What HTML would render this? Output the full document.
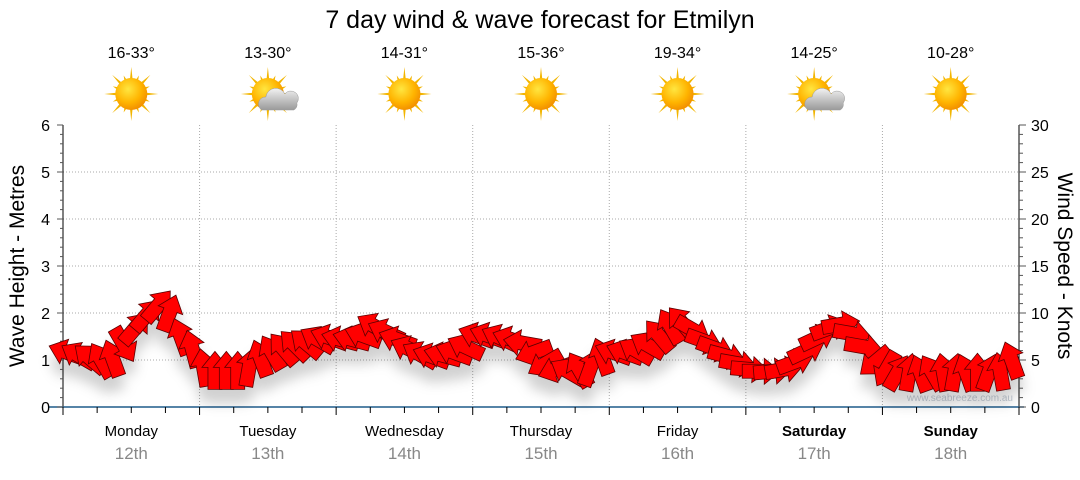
<!DOCTYPE html>
<html><head><meta charset="utf-8"><style>
body{margin:0;background:#fff;width:1080px;height:475px;overflow:hidden;font-family:"Liberation Sans","DejaVu Sans",sans-serif}
</style></head><body>
<svg id="chart" width="1080" height="475" viewBox="0 0 1080 475" xmlns="http://www.w3.org/2000/svg">
<defs>
<radialGradient id="sunG" cx="0.4" cy="0.35" r="0.7"><stop offset="0" stop-color="#ffe640"/><stop offset="0.6" stop-color="#ffb400"/><stop offset="1" stop-color="#f08a00"/></radialGradient>
<linearGradient id="cloudG" x1="0" y1="0" x2="0" y2="1"><stop offset="0" stop-color="#f2f2f2"/><stop offset="1" stop-color="#9a9a9a"/></linearGradient>
<filter id="shadow" x="-20%" y="-20%" width="140%" height="160%"><feDropShadow dx="0" dy="14" stdDeviation="6" flood-color="#000" flood-opacity="0.18"/></filter>
</defs>
<text x="540" y="28" text-anchor="middle" font-size="25" fill="#000">7 day wind &amp; wave forecast for Etmilyn</text>
<g id="grid"></g><g id="axes"></g><g id="days"></g>
<text transform="translate(24,266) rotate(-90)" text-anchor="middle" font-size="21">Wave Height - Metres</text>
<text transform="translate(1058,266) rotate(90)" text-anchor="middle" font-size="21">Wind Speed - Knots</text>
<text x="1013" y="401" text-anchor="end" font-size="10" fill="#c4ccd6">www.seabreeze.com.au</text>
<g id="arrows" filter="url(#shadow)"></g>
</svg>
<script>
const dayNames=["Monday","Tuesday","Wednesday","Thursday","Friday","Saturday","Sunday"];
const dayDates=["12th","13th","14th","15th","16th","17th","18th"];
const temps=["16-33°","13-30°","14-31°","15-36°","19-34°","14-25°","10-28°"];
const cloudy=[false,true,false,false,false,true,false];
const waveTicks=[0,1,2,3,4,5,6];
const windTicks=[0,5,10,15,20,25,30];
// wind speed (knots) every 2 hours, 84 points
const windSpeed=[5.8,5.5,5.2,5.0,5.2,6.6,8.4,9.8,10.8,10.0,7.5,6.2,
4.2,3.9,3.9,3.9,4.2,5.2,5.8,6.2,6.6,6.8,7.2,7.4,
7.2,7.2,7.6,8.6,8.0,7.2,6.2,5.6,5.4,5.5,5.8,6.4,
7.6,7.6,7.4,7.2,6.8,5.8,4.6,4.0,3.8,4.0,4.2,5.4,
5.8,5.8,6.0,6.6,7.6,8.6,9.0,8.2,7.0,6.2,5.4,4.6,
4.0,3.8,3.8,4.0,4.8,6.0,7.4,8.4,8.8,7.8,6.4,4.8,
4.0,3.7,3.7,3.6,3.7,3.7,3.7,3.7,3.7,3.7,3.8,5.0];
// arrow pointing direction on screen (deg, 0=up, clockwise)
const windDir=[290,300,310,330,340,150,40,40,40,20,340,345,
350,0,0,0,10,340,330,320,315,310,300,290,
285,285,290,300,295,290,295,300,290,285,290,295,
290,290,295,290,280,250,240,250,300,330,20,340,
290,290,300,300,320,330,320,120,110,110,105,100,
95,90,85,80,70,65,65,70,80,100,100,230,
210,30,10,340,330,350,10,340,0,20,350,340];
const X0=63,X1=1019,YT=125,YB=407,dayW=(X1-X0)/7;
const yWave=v=>YB-(v/6)*(YB-YT);
const yWind=v=>YB-(v/30)*(YB-YT);
const xAt=i=>X0+i*dayW/12+4;
const NS="http://www.w3.org/2000/svg";
function mk(p,t,a){const e=document.createElementNS(NS,t);for(const k in a)e.setAttribute(k,a[k]);p.appendChild(e);return e;}
const grid=document.getElementById('grid'),axes=document.getElementById('axes'),days=document.getElementById('days'),arrows=document.getElementById('arrows');
for(let k=1;k<6;k++){const l=mk(grid,'line',{x1:X0,x2:X1,y1:yWave(k),y2:yWave(k),stroke:'#aaa','stroke-dasharray':'1,2'});

}
for(let d=1;d<7;d++){const x=X0+d*dayW;const l=mk(grid,'line',{x1:x,x2:x,y1:YT,y2:YB,stroke:'#aaa','stroke-dasharray':'1,2'});

}
mk(axes,'line',{x1:X0,x2:X0,y1:YT,y2:YB,stroke:'#000'});
mk(axes,'line',{x1:X1,x2:X1,y1:YT,y2:YB,stroke:'#000'});
mk(axes,'line',{x1:X0-15,x2:X1+5,y1:YB,y2:YB,stroke:'#1f5b8a','stroke-width':1.5});
for(let m=0;m<=30;m++){const y=yWave(m/5);mk(axes,'line',{x1:X0-(m%5?3:6),x2:X0,y1:y,y2:y,stroke:'#555'});}
for(let m=0;m<=30;m++){const y=yWind(m);mk(axes,'line',{x1:X1,x2:X1+(m%5?4:7),y1:y,y2:y,stroke:'#555'});}
waveTicks.forEach(v=>{const t=mk(axes,'text',{x:X0-13,y:yWave(v)+6,'text-anchor':'end','font-size':16});t.textContent=v;

});
windTicks.forEach(v=>{const t=mk(axes,'text',{x:X1+12,y:yWind(v)+6,'font-size':16});t.textContent=v;

});
for(let q=0;q<=28;q++){const x=X0+q*dayW/4;mk(axes,'line',{x1:x,x2:x,y1:YB,y2:YB+(q%4?6:8),stroke:'#000'});}
function sun(g,cx,cy){for(let r=0;r<16;r++){const a=r*Math.PI/8,L=r%2?20:27;mk(g,'polygon',{points:`${cx+Math.cos(a)*L},${cy+Math.sin(a)*L} ${cx+Math.cos(a+0.1)*14},${cy+Math.sin(a+0.1)*14} ${cx+Math.cos(a-0.1)*14},${cy+Math.sin(a-0.1)*14}`,fill:'#f2b500'});}
mk(g,'circle',{cx,cy,r:16,fill:'url(#sunG)'});}
dayNames.forEach((n,d)=>{const cx=X0+(d+0.5)*dayW;const we=d>=5;
const t=mk(days,'text',{x:cx,y:436,'text-anchor':'middle','font-size':15,'font-weight':we?'bold':'normal'});t.textContent=n;


const t2=mk(days,'text',{x:cx,y:459,'text-anchor':'middle','font-size':17,fill:'#888'});t2.textContent=dayDates[d];


const t3=mk(days,'text',{x:cx,y:58,'text-anchor':'middle','font-size':16});t3.textContent=temps[d];


const g=mk(days,'g',{});


sun(g,cx,94);
if(cloudy[d]){mk(g,'path',{d:`M${cx-6},110 a7,7 0 0 1 4,-13 a10,10 0 0 1 19,-3 a7,7 0 0 1 12,9 a6,6 0 0 1 -3,7 z`,fill:'url(#cloudG)',stroke:'#999','stroke-width':0.5});}
});
const ARROW="M-7,19 L-7,-3 L-13,-3 L0,-19 L13,-3 L7,-3 L7,19 Z";
windSpeed.forEach((s,i)=>{const a=mk(arrows,'path',{d:ARROW,fill:'#ff0000',stroke:'#5a0000','stroke-width':0.8,transform:`translate(${xAt(i)},${yWind(s)}) rotate(${windDir[i]})`});

});
</script>
</body></html>
